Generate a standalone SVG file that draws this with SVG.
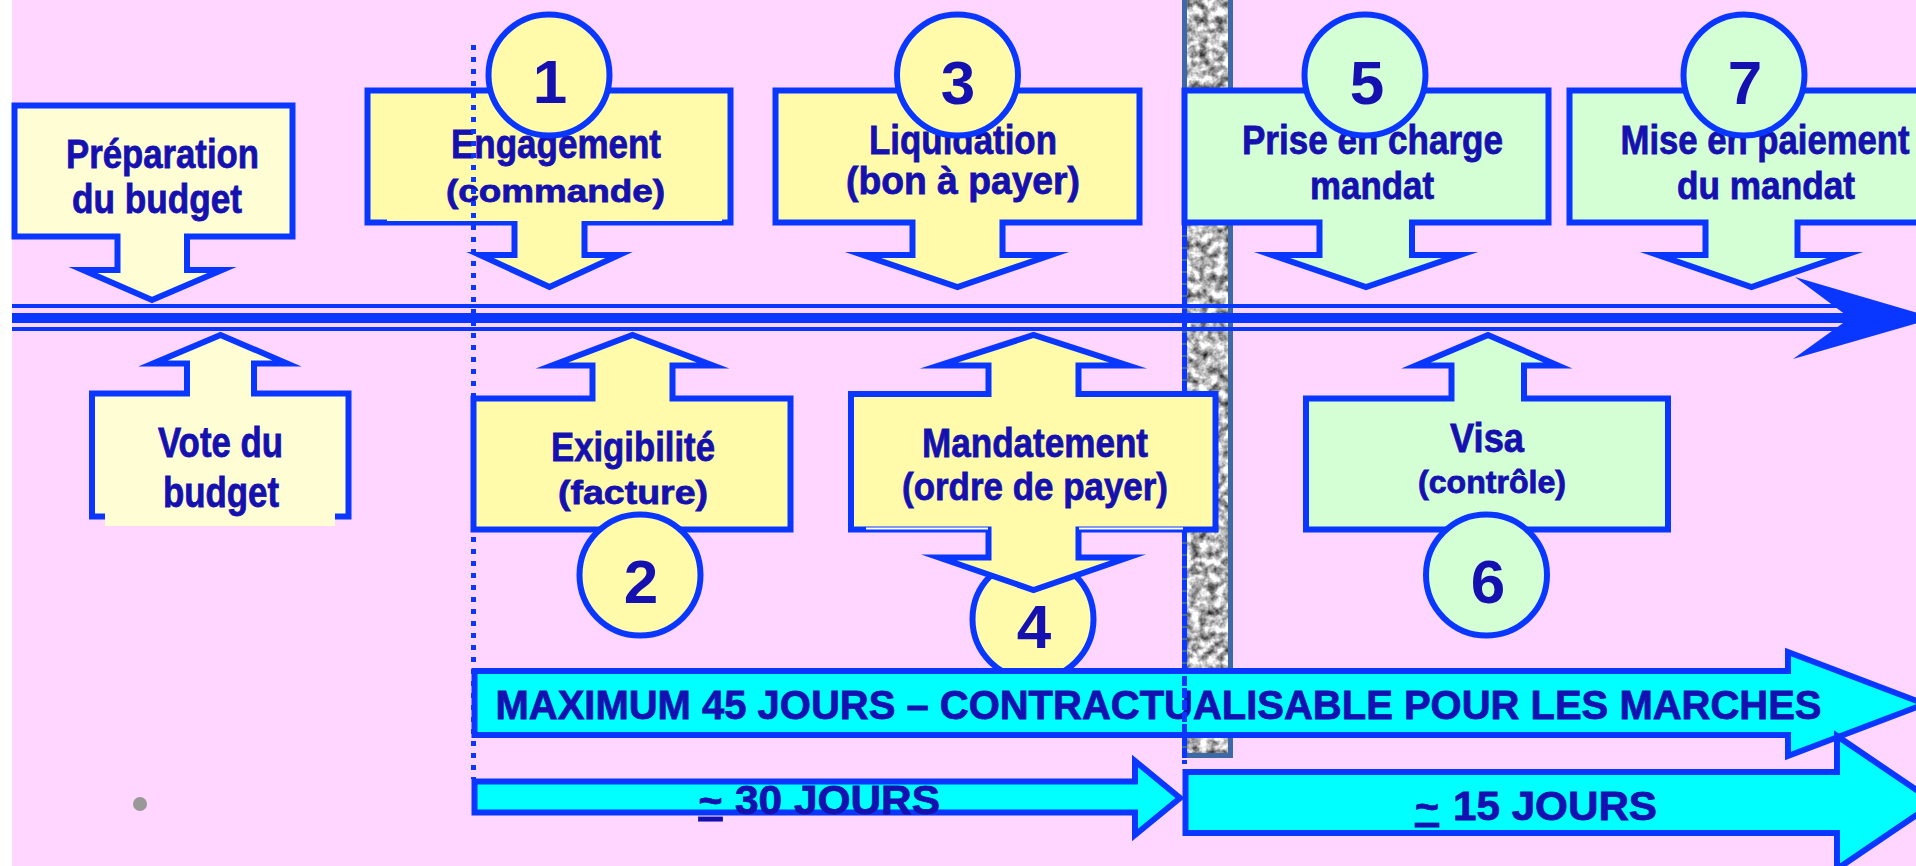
<svg xmlns="http://www.w3.org/2000/svg" width="1916" height="866" viewBox="0 0 1916 866">
<defs>
<style>
.bx{stroke:#0A37FF;stroke-width:6;stroke-linejoin:miter;stroke-miterlimit:10}
.py{fill:#FFFDD4}
.yl{fill:#FFFBAA}
.gr{fill:#D4FED4}
.cy{fill:#00FFFF}
.t{font-family:"Liberation Sans Narrow","Arial Narrow","Liberation Sans",Arial,sans-serif;font-weight:bold;fill:#1510B0;stroke:#1510B0;stroke-width:0.8;text-anchor:middle}
.num{font-family:"Liberation Sans",Arial,sans-serif;font-weight:bold;font-size:62px;fill:#1510B0;text-anchor:middle}
.tl{stroke:#0A37FF;fill:none}
</style>
<filter id="granite" filterUnits="objectBoundingBox" x="0" y="0" width="1" height="1" color-interpolation-filters="sRGB">
<feTurbulence type="fractalNoise" baseFrequency="0.12" numOctaves="3" seed="11"/>
<feColorMatrix type="matrix" values="1.5 0 0 0 -0.03  1.5 0 0 0 -0.03  1.5 0 0 0 -0.03  0 0 0 0 1"/>
</filter>
</defs>

<rect x="0" y="0" width="1916" height="866" fill="#FFFFFF"/>
<rect x="12" y="0" width="1904" height="866" fill="#FFD6FF"/>

<g id="pillar">
<rect x="1184" y="0" width="47" height="756" fill="#B5B5B5" filter="url(#granite)"/>
<rect x="1184.5" y="-5" width="46" height="760.5" fill="none" stroke="#3D6AA6" stroke-width="5"/>
</g>

<g id="connectors">
<line class="tl" x1="12" y1="306" x2="1846" y2="306" stroke-width="4"/>
<line class="tl" x1="12" y1="318" x2="1850" y2="318" stroke-width="10"/>
<line class="tl" x1="12" y1="329" x2="1846" y2="329" stroke-width="4"/>
<polygon points="1795,277 1935,318 1793,359 1850,318" fill="#0A37FF"/>
</g>

<g id="preparation">
<path class="bx py" d="M14.5,105.5 H292.5 V236.5 H187 V270 H222 L152,300 L83,270 H117.5 V236.5 H14.5 Z"/>
<text class="t" x="162.5" y="168" font-size="41" textLength="193" lengthAdjust="spacingAndGlyphs">Préparation</text>
<text class="t" x="157" y="213" font-size="40" textLength="170" lengthAdjust="spacingAndGlyphs">du budget</text>
</g>

<g id="engagement">
<path class="bx yl" d="M367.5,90.5 H730.5 V222.5 H584.5 V255 H619 L549.5,287 L480,255 H514.5 V222.5 H367.5 Z"/>
<rect x="387" y="219" width="335" height="2" fill="#FFFBAA"/>
<text class="t" x="556" y="158" font-size="40" textLength="210" lengthAdjust="spacingAndGlyphs">Engagement</text>
<text class="t" x="555.5" y="202" font-size="32" textLength="219" lengthAdjust="spacingAndGlyphs">(commande)</text>
<circle class="bx yl" cx="549" cy="75" r="60.5"/>
<text class="num" x="550" y="103">1</text>
</g>

<g id="liquidation">
<path class="bx yl" d="M775.5,90.5 H1139.5 V222.5 H1002.5 V255 H1051 L957.5,287 L863,255 H912.5 V222.5 H775.5 Z"/>
<text class="t" x="963" y="154" font-size="41" textLength="188" lengthAdjust="spacingAndGlyphs">Liquidation</text>
<text class="t" x="963" y="194" font-size="39" textLength="234" lengthAdjust="spacingAndGlyphs">(bon à payer)</text>
<circle class="bx yl" cx="957.5" cy="75" r="60.5"/>
<text class="num" x="958" y="104">3</text>
</g>

<g id="prise">
<path class="bx gr" d="M1184.5,90.5 H1548.5 V222.5 H1412 V255 H1460 L1366,287 L1272,255 H1319.5 V222.5 H1184.5 Z"/>
<text class="t" x="1372.5" y="154" font-size="41" textLength="261" lengthAdjust="spacingAndGlyphs">Prise en charge</text>
<text class="t" x="1372" y="199" font-size="39" textLength="124" lengthAdjust="spacingAndGlyphs">mandat</text>
<circle class="bx gr" cx="1365" cy="75" r="60.5"/>
<text class="num" x="1367" y="104">5</text>
</g>

<g id="mise">
<path class="bx gr" d="M1569.5,90.5 H1930 V222.5 H1797.5 V255 H1845 L1751.5,287 L1658,255 H1705.5 V222.5 H1569.5 Z"/>
<text class="t" x="1765" y="154" font-size="41" textLength="289" lengthAdjust="spacingAndGlyphs">Mise en paiement</text>
<text class="t" x="1766" y="199" font-size="39" textLength="178" lengthAdjust="spacingAndGlyphs">du mandat</text>
<circle class="bx gr" cx="1744" cy="75" r="60.5"/>
<text class="num" x="1745" y="104">7</text>
</g>

<g id="vote">
<path class="bx py" d="M92,516.5 V393.5 H187 V363.5 H153 L220.5,335 L287,363.5 H254 V393.5 H348.5 V516.5 Z"/>
<rect x="105" y="511" width="230" height="15" fill="#FFFDD4"/>
<text class="t" x="220.5" y="457" font-size="42" textLength="125" lengthAdjust="spacingAndGlyphs">Vote du</text>
<text class="t" x="221" y="507" font-size="42" textLength="116" lengthAdjust="spacingAndGlyphs">budget</text>
</g>

<g id="exigibilite">
<path class="bx yl" d="M473.5,529.5 V398.5 H592.5 V365.5 H552 L632.5,335 L713,365.5 H672.5 V398.5 H790.5 V529.5 Z"/>
<text class="t" x="633" y="461" font-size="41" textLength="164" lengthAdjust="spacingAndGlyphs">Exigibilité</text>
<text class="t" x="633" y="504" font-size="34" textLength="150" lengthAdjust="spacingAndGlyphs">(facture)</text>
<circle class="bx yl" cx="640" cy="575" r="60.5"/>
<text class="num" x="641" y="603">2</text>
</g>

<g id="mandatement">
<circle class="bx yl" cx="1033" cy="619" r="60.5"/>
<text class="num" x="1034" y="648">4</text>
<path class="bx yl" d="M851,529.5 V394 H988.5 V365.5 H939 L1033.5,335 L1128,365.5 H1078.5 V394 H1215.5 V529.5 H1078.5 V557.5 H1128 L1033.5,590 L939,557.5 H988.5 V529.5 Z"/>
<rect x="866" y="527.5" width="122" height="2" fill="#FFFFFF"/>
<rect x="1079" y="527.5" width="104" height="2" fill="#FFFFFF"/>
<text class="t" x="1035" y="457" font-size="41" textLength="226" lengthAdjust="spacingAndGlyphs">Mandatement</text>
<text class="t" x="1035" y="500" font-size="39" textLength="266" lengthAdjust="spacingAndGlyphs">(ordre de payer)</text>
</g>

<g id="visa">
<path class="bx gr" d="M1306,529.5 V398.5 H1451.5 V365.5 H1416 L1488,335 L1558,365.5 H1524 V398.5 H1668 V529.5 Z"/>
<text class="t" x="1487" y="452" font-size="41" textLength="74" lengthAdjust="spacingAndGlyphs">Visa</text>
<text class="t" x="1492" y="493" font-size="31" textLength="148" lengthAdjust="spacingAndGlyphs">(contrôle)</text>
<circle class="bx gr" cx="1486.5" cy="575" r="60.5"/>
<text class="num" x="1488" y="603">6</text>
</g>

<g id="maximum">
<path class="bx cy" d="M474.5,671 H1788 V652 L1925,704 L1788,756 V735 H474.5 Z"/>
<text class="t" x="1158.5" y="719" font-size="41" textLength="1326" lengthAdjust="spacingAndGlyphs">MAXIMUM 45 JOURS – CONTRACTUALISABLE POUR LES MARCHES</text>
</g>

<g id="jours30">
<path class="bx cy" d="M474.5,781.5 H1135 V761 L1180,798 L1135,835 V812.5 H474.5 Z"/>
<text class="t" x="710.5" y="814" font-size="41" style="text-decoration:underline">~</text>
<text class="t" x="837.5" y="814" font-size="41" textLength="205" lengthAdjust="spacingAndGlyphs">30 JOURS</text>
</g>

<g id="jours15">
<path class="bx cy" d="M1185.5,772 H1837 V736 L1935,802.5 L1837,869 V833 H1185.5 Z"/>
<text class="t" x="1427" y="820" font-size="41" style="text-decoration:underline">~</text>
<text class="t" x="1555" y="820" font-size="41" textLength="204" lengthAdjust="spacingAndGlyphs">15 JOURS</text>
</g>

<g id="guides">
<line x1="1184.5" y1="225" x2="1184.5" y2="391" stroke="#0A37FF" stroke-width="5" stroke-dasharray="10 2"/>
<line x1="1184.5" y1="532" x2="1184.5" y2="764" stroke="#0A37FF" stroke-width="5" stroke-dasharray="10 2"/>
<line x1="473.5" y1="45" x2="473.5" y2="779" stroke="#0A37FF" stroke-width="5" stroke-dasharray="5 7"/>
</g>

<circle id="dot" cx="140" cy="804" r="7" fill="#999999"/>
</svg>
